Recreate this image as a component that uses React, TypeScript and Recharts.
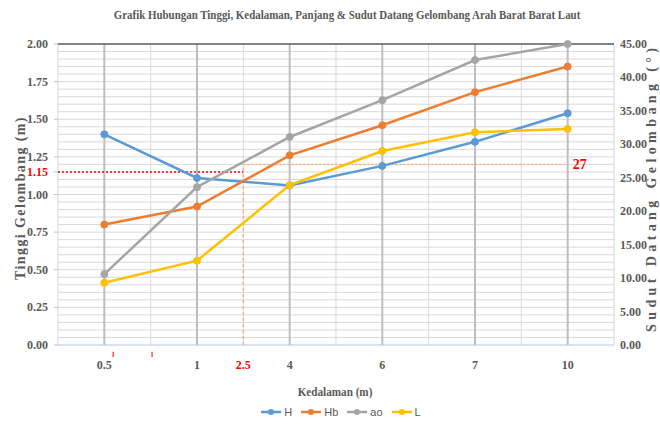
import React from "react";
import {
  LineChart,
  Line,
  XAxis,
  YAxis,
  ReferenceLine,
  Legend,
  Customized,
} from "recharts";

// Depth categories, evenly spaced on the axis with blank slots between them
const depthLabels = ["0.5", "1", "4", "6", "7", "10"];
const depthSlots = [1, 3, 5, 7, 9, 11];
const slotCount = 12;

// Wave height (m), breaking height (m), incidence angle (°), wave length
const seriesH = [1.4, 1.11, 1.06, 1.19, 1.35, 1.54];
const seriesHb = [0.8, 0.92, 1.26, 1.46, 1.68, 1.85];
const seriesAo = [10.6, 23.6, 31.1, 36.6, 42.6, 45.0];
const seriesL = [9.3, 12.6, 23.9, 29.0, 31.8, 32.3];

const heightTicks = [0, 0.25, 0.5, 0.75, 1.0, 1.25, 1.5, 1.75, 2.0];
const angleTicks = [0, 5, 10, 15, 20, 25, 30, 35, 40, 45];
const minorStep = 0.05;

// Reading marked at depth 2.5 m
const markedDepth = "2.5";
const markedSlot = 4;
const markedHeight = 1.15;
const markedAngle = 27;
const strayMarkSlots = [1.19, 2.03];

const series = [
  { key: "H", name: "H", color: "#5B9BD5", axis: "left" },
  { key: "Hb", name: "Hb", color: "#ED7D31", axis: "left" },
  { key: "ao", name: "ao", color: "#A5A5A5", axis: "right" },
  { key: "L", name: "L", color: "#FFC000", axis: "right" },
];

const data = depthSlots.map((slot, i) => ({
  slot,
  depth: depthLabels[i],
  H: seriesH[i],
  Hb: seriesHb[i],
  ao: seriesAo[i],
  L: seriesL[i],
}));

const xTicks = [...depthSlots, markedSlot].sort((a, b) => a - b);
const xTickLabel = (v: number) => {
  if (v === markedSlot) return markedDepth;
  const i = depthSlots.indexOf(v);
  return i >= 0 ? depthLabels[i] : "";
};

const gridValues: number[] = [];
for (let i = 1; i < Math.round(2 / minorStep); i++) {
  gridValues.push(+(i * minorStep).toFixed(2));
}
const slotLines: number[] = [];
for (let s = 0; s <= slotCount; s++) slotLines.push(s);

const SERIF = "'Liberation Serif', 'Times New Roman', serif";
const TEXT = "#595959";
const RED = "#FF0000";

const LeftTick = (props: any) => {
  const { x, y, payload } = props;
  const marked = Math.abs(payload.value - markedHeight) < 1e-6;
  return (
    <text
      x={x}
      y={y}
      dy={4}
      textAnchor="end"
      fontFamily={SERIF}
      fontWeight="bold"
      fontSize={12}
      fill={marked ? RED : TEXT}
    >
      {payload.value.toFixed(2)}
    </text>
  );
};

const RightTick = (props: any) => {
  const { x, y, payload } = props;
  return (
    <text
      x={x}
      y={y}
      dy={4}
      textAnchor="start"
      fontFamily={SERIF}
      fontWeight="bold"
      fontSize={12}
      fill={TEXT}
    >
      {payload.value.toFixed(2)}
    </text>
  );
};

const BottomTick = (props: any) => {
  const { x, y, payload } = props;
  const marked = payload.value === markedSlot;
  return (
    <text
      x={x}
      y={y}
      dy={4}
      textAnchor="middle"
      fontFamily={SERIF}
      fontWeight="bold"
      fontSize={12}
      fill={marked ? RED : TEXT}
    >
      {xTickLabel(payload.value)}
    </text>
  );
};

const Titles = () => (
  <g fontFamily={SERIF} fontWeight="bold" fill={TEXT}>
    <text
      transform="translate(347,19) scale(0.84,1)"
      textAnchor="middle"
      fontSize={13}
    >
      Grafik Hubungan Tinggi, Kedalaman, Panjang &amp; Sudut Datang Gelombang Arah Barat Barat Laut
    </text>
    <text
      transform="translate(335,396) scale(0.86,1)"
      textAnchor="middle"
      fontSize={13}
    >
      Kedalaman (m)
    </text>
    <text
      transform="translate(25,198) rotate(-90)"
      textAnchor="middle"
      fontSize={14}
      letterSpacing={1.4}
    >
      Tinggi Gelombang (m)
    </text>
    <text
      transform="translate(656,190) rotate(-90)"
      textAnchor="middle"
      fontSize={14}
      textLength={284}
      lengthAdjust="spacing"
    >
      Sudut Datang Gelombang (°)
    </text>
  </g>
);

const LegendContent = () => (
  <div
    style={{
      display: "flex",
      justifyContent: "center",
      gap: 9,
      fontFamily: "'Liberation Sans Narrow', 'Liberation Sans', Arial, sans-serif",
      fontSize: 11,
      color: TEXT,
      paddingLeft: 22,
    }}
  >
    {series.map((s) => (
      <div key={s.key} style={{ display: "flex", alignItems: "center", gap: 3 }}>
        <svg width={20} height={8}>
          <line x1={0} y1={4} x2={20} y2={4} stroke={s.color} strokeWidth={2.5} />
          <circle cx={10} cy={4} r={3} fill={s.color} />
        </svg>
        <span>{s.name}</span>
      </div>
    ))}
  </div>
);

export default function App() {
  return (
    <div
      style={{
        position: "absolute",
        left: 0,
        top: 0,
        width: 660,
        height: 430,
        background: "#ffffff",
      }}
    >
      <LineChart
        width={660}
        height={430}
        data={data}
        margin={{ top: 44, right: 0, bottom: 0, left: 0 }}
      >
        {gridValues.map((v) => (
          <ReferenceLine
            key={`h${v}`}
            yAxisId="left"
            y={v}
            stroke="#D9D9D9"
            strokeWidth={1}
          />
        ))}
        {slotLines.map((s) => (
          <ReferenceLine
            key={`v${s}`}
            yAxisId="left"
            x={s}
            stroke={s % 2 === 1 ? "#BFBFBF" : "#D9D9D9"}
            strokeWidth={s % 2 === 1 ? 2 : 1}
          />
        ))}
        <ReferenceLine yAxisId="left" y={2} stroke="#595959" strokeWidth={1.5} />

        <XAxis
          dataKey="slot"
          type="number"
          domain={[0, slotCount]}
          ticks={xTicks}
          interval={0}
          height={85}
          tickSize={0}
          tickMargin={20}
          tick={<BottomTick />}
          axisLine={{ stroke: "#B4C7E7", strokeWidth: 1 }}
          tickLine={false}
        />
        <YAxis
          yAxisId="left"
          orientation="left"
          domain={[0, 2]}
          ticks={[...heightTicks, markedHeight]}
          interval={0}
          width={58}
          tickSize={4}
          tickMargin={6}
          tick={<LeftTick />}
          axisLine={false}
          tickLine={{ stroke: "#BFBFBF" }}
        />
        <YAxis
          yAxisId="right"
          orientation="right"
          domain={[0, 45]}
          ticks={angleTicks}
          interval={0}
          width={46}
          tickSize={0}
          tickMargin={6}
          tick={<RightTick />}
          axisLine={false}
          tickLine={false}
        />

        {/* reading at depth 2.5 m */}
        <ReferenceLine
          yAxisId="left"
          segment={[
            { x: 0, y: markedHeight },
            { x: markedSlot, y: markedHeight },
          ]}
          stroke={RED}
          strokeWidth={1.5}
          strokeDasharray="2 2"
        />
        <ReferenceLine
          yAxisId="right"
          segment={[
            { x: markedSlot, y: 0 },
            { x: markedSlot, y: markedAngle },
          ]}
          stroke="#F4B183"
          strokeWidth={1.5}
          strokeDasharray="3 3"
        />
        <ReferenceLine
          yAxisId="right"
          segment={[
            { x: markedSlot, y: markedAngle },
            { x: depthSlots[depthSlots.length - 1], y: markedAngle },
          ]}
          stroke="#F4B183"
          strokeWidth={1.5}
          strokeDasharray="2 2"
          label={{
            value: String(markedAngle),
            position: "right",
            offset: 5,
            fill: RED,
            fontFamily: SERIF,
            fontWeight: "bold",
            fontSize: 14,
          }}
        />
        {strayMarkSlots.map((s) => (
          <ReferenceLine
            key={`m${s}`}
            yAxisId="left"
            segment={[
              { x: s, y: -0.045 },
              { x: s, y: -0.08 },
            ]}
            stroke={RED}
            strokeWidth={1}
            ifOverflow="visible"
          />
        ))}

        {series.map((s) => (
          <Line
            key={s.key}
            yAxisId={s.axis}
            dataKey={s.key}
            name={s.name}
            stroke={s.color}
            strokeWidth={2.5}
            dot={{ r: 3.5, fill: s.color, stroke: s.color, strokeWidth: 1 }}
            isAnimationActive={false}
          />
        ))}

        <Legend
          layout="horizontal"
          verticalAlign="middle"
          align="center"
          wrapperStyle={{ position: "absolute", top: 406, left: 0, width: 660 }}
          content={<LegendContent />}
        />
        <Customized component={<Titles />} />
      </LineChart>
    </div>
  );
}
